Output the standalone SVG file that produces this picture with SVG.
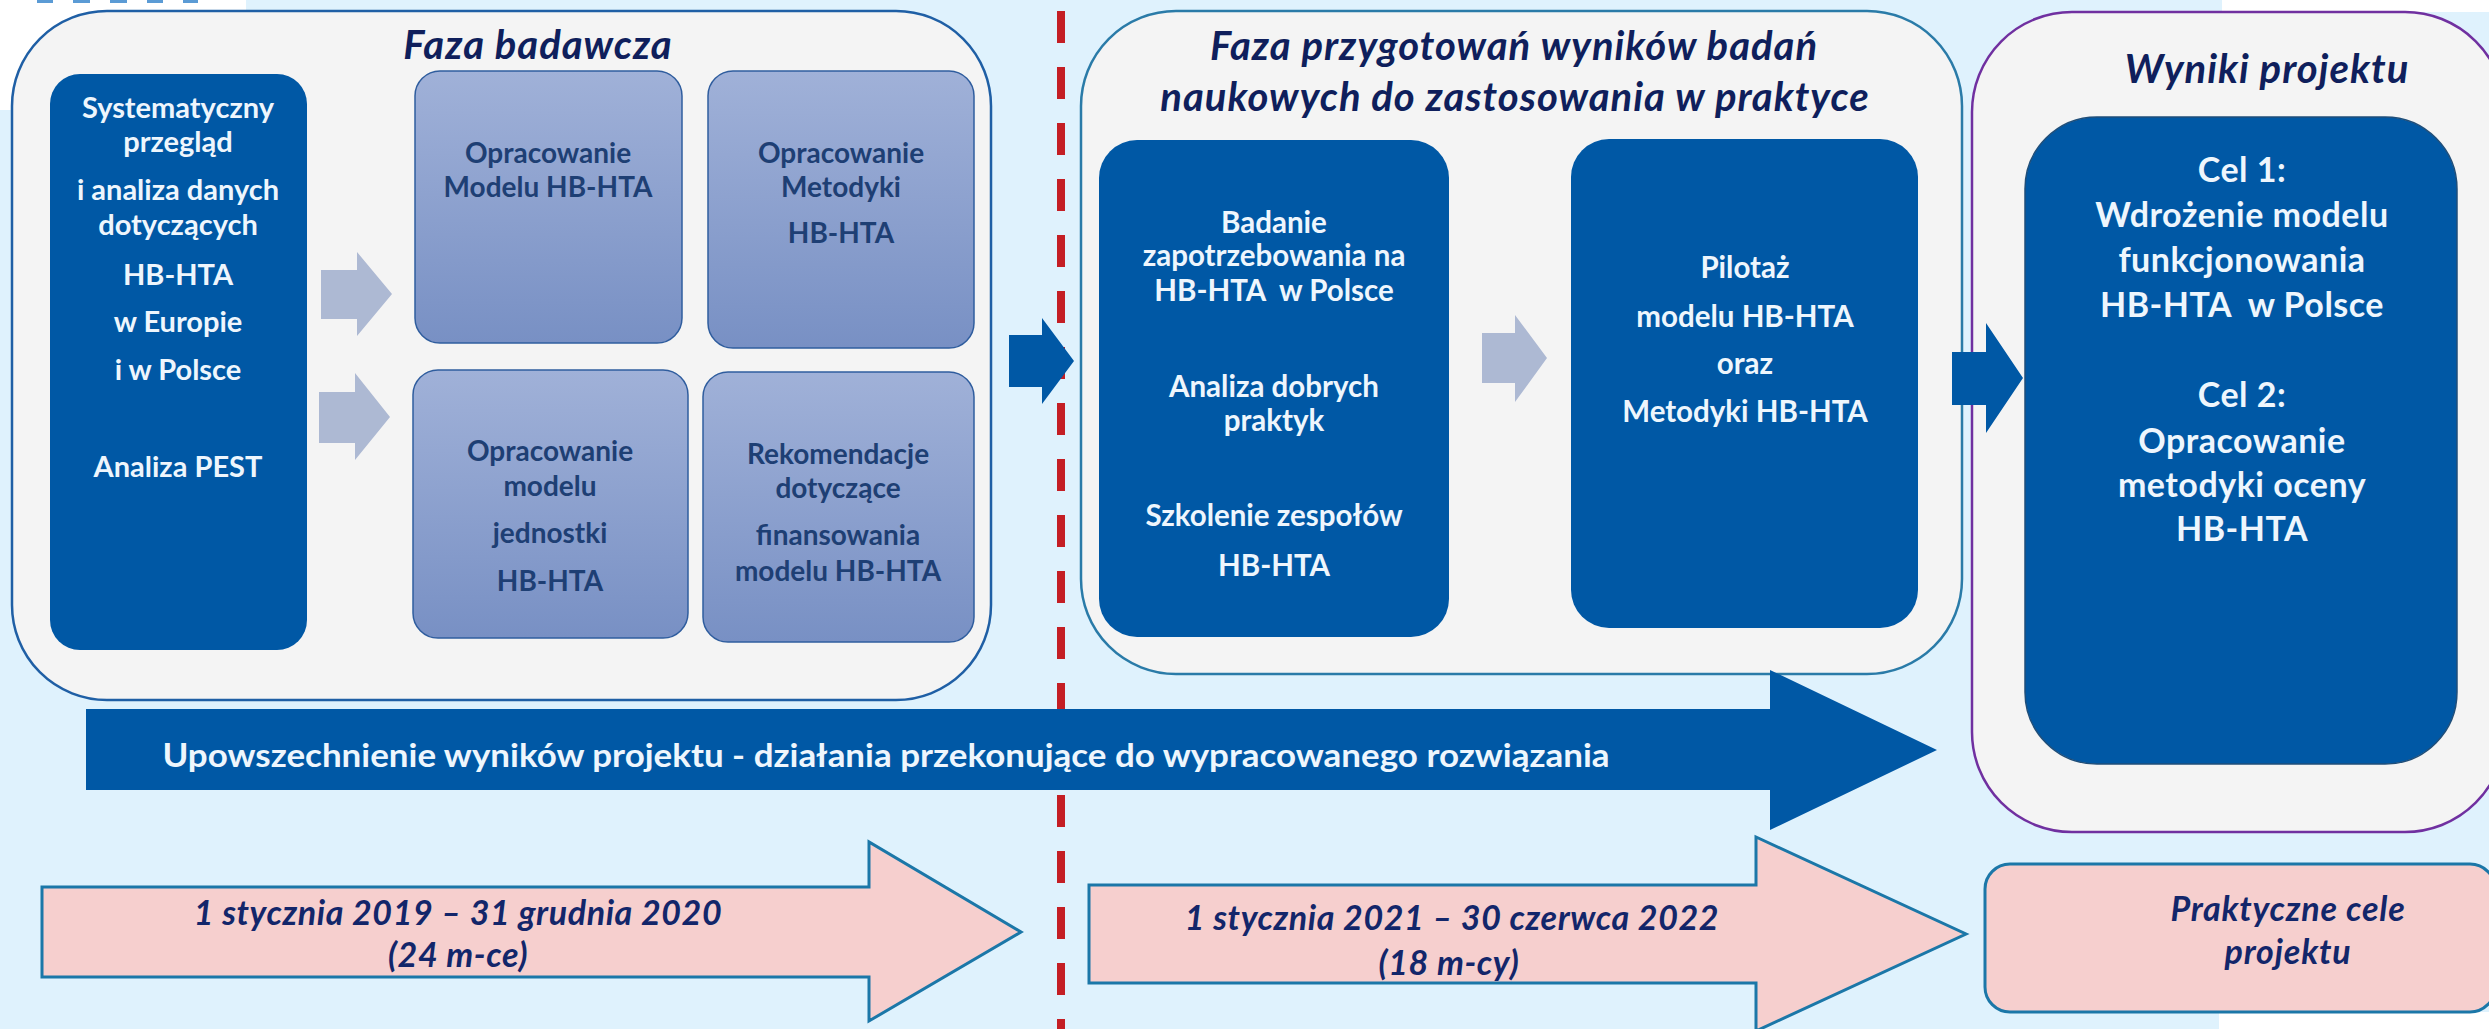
<svg xmlns="http://www.w3.org/2000/svg" width="2489" height="1029" viewBox="0 0 2489 1029">
<defs>
<linearGradient id="lg" x1="0" y1="0" x2="0" y2="1">
<stop offset="0" stop-color="#A0B1D8"/>
<stop offset="1" stop-color="#7890C4"/>
</linearGradient>
<style>
.phase{fill:#F4F4F4;stroke-width:2.5}
.dark{fill:#0058A5}
.light{fill:url(#lg);stroke:#2F5D9E;stroke-width:1.5}
.garrow{fill:#ADB9D3}
.barrow{fill:#0058A5}
.pink{fill:#F6CFCE;stroke:#1B77A8;stroke-width:3}
text{font-family:Lato,"Liberation Sans",sans-serif;font-weight:bold;text-anchor:middle}
.t{font-style:italic;font-size:40px;letter-spacing:1px;fill:#0F1F5C}
.w{fill:#EEF6FD;font-size:29px}
.w2{fill:#EEF6FD;font-size:29.5px}
.g{fill:#1E3F74;font-size:28px}
.c{fill:#EEF6FD;font-size:34px;letter-spacing:0.5px}
.p{fill:#13266A;font-style:italic;font-size:34px;letter-spacing:0.6px}
.pp{fill:#13266A;font-style:italic;font-size:34px;letter-spacing:0.8px}
</style>
</defs>
<rect x="0" y="0" width="2489" height="1029" fill="#DFF2FD"/>
<rect x="0" y="0" width="246" height="110" fill="#FFFFFF"/>
<rect x="2222" y="0" width="267" height="12" fill="#FFFFFF"/>
<rect x="2219" y="1012" width="270" height="17" fill="#FFFFFF"/>
<g fill="#5B9BD5">
<rect x="37" y="0" width="16" height="3"/>
<rect x="73" y="0" width="17" height="3"/>
<rect x="110" y="0" width="17" height="3"/>
<rect x="147" y="0" width="16" height="3"/>
<rect x="183" y="0" width="15" height="3"/>
</g>

<g id="phase-research">
<rect class="phase" x="12" y="11" width="979" height="689" rx="95" stroke="#1F5FA5"/>
<text class="t" x="538" y="59">Faza badawcza</text>
</g>

<g id="node-systematic">
<rect class="dark" x="50" y="74" width="257" height="576" rx="30"/>
<text class="w" x="178" y="118">Systematyczny</text>
<text class="w" x="178" y="152">przegląd</text>
<text class="w" x="178" y="200">i analiza danych</text>
<text class="w" x="178" y="235">dotyczących</text>
<text class="w" x="178" y="285">HB-HTA</text>
<text class="w" x="178" y="332">w Europie</text>
<text class="w" x="178" y="380">i w Polsce</text>
<text class="w" x="178" y="477">Analiza PEST</text>
</g>

<g id="node-model">
<rect class="light" x="415" y="71" width="267" height="272" rx="25"/>
<text class="g" x="548" y="163">Opracowanie</text>
<text class="g" x="548" y="197">Modelu HB-HTA</text>
</g>
<g id="node-metodyka">
<rect class="light" x="708" y="71" width="266" height="277" rx="25"/>
<text class="g" x="841" y="163">Opracowanie</text>
<text class="g" x="841" y="197">Metodyki</text>
<text class="g" x="841" y="243">HB-HTA</text>
</g>
<g id="node-jednostka">
<rect class="light" x="413" y="370" width="275" height="268" rx="25"/>
<text class="g" x="550" y="461">Opracowanie</text>
<text class="g" x="550" y="496">modelu</text>
<text class="g" x="550" y="543">jednostki</text>
<text class="g" x="550" y="591">HB-HTA</text>
</g>
<g id="node-rekomendacje">
<rect class="light" x="703" y="372" width="271" height="270" rx="25"/>
<text class="g" x="838" y="464">Rekomendacje</text>
<text class="g" x="838" y="498">dotyczące</text>
<text class="g" x="838" y="545">finansowania</text>
<text class="g" x="838" y="581">modelu HB-HTA</text>
</g>

<g id="phase-prep">
<rect class="phase" x="1081" y="11" width="881" height="663" rx="95" stroke="#2A7BA8"/>
<text class="t" x="1514" y="60">Faza przygotowań wyników badań</text>
<text class="t" x="1515" y="111">naukowych do zastosowania w praktyce</text>
</g>
<g id="node-badanie">
<rect class="dark" x="1099" y="140" width="350" height="497" rx="38"/>
<text class="w2" x="1274" y="233">Badanie</text>
<text class="w2" x="1274" y="266">zapotrzebowania na</text>
<text class="w2" x="1274" y="301" xml:space="preserve">HB-HTA  w Polsce</text>
<text class="w2" x="1274" y="397">Analiza dobrych</text>
<text class="w2" x="1274" y="431">praktyk</text>
<text class="w2" x="1274" y="526">Szkolenie zespołów</text>
<text class="w2" x="1274" y="576">HB-HTA</text>
</g>
<g id="node-pilotaz">
<rect class="dark" x="1571" y="139" width="347" height="489" rx="38"/>
<text class="w2" x="1745" y="278">Pilotaż</text>
<text class="w2" x="1745" y="327">modelu HB-HTA</text>
<text class="w2" x="1745" y="374">oraz</text>
<text class="w2" x="1745" y="422">Metodyki HB-HTA</text>
</g>

<g id="phase-results">
<rect class="phase" x="1972" y="12" width="533" height="820" rx="100" stroke="#7030A0"/>
<text class="t" x="2267" y="83">Wyniki projektu</text>
</g>
<g id="node-cele">
<rect class="dark" x="2025" y="117" width="432" height="647" rx="72" stroke="#1F4E79" stroke-width="1.5"/>
<text class="c" x="2242" y="182">Cel 1:</text>
<text class="c" x="2242" y="227">Wdrożenie modelu</text>
<text class="c" x="2242" y="272">funkcjonowania</text>
<text class="c" x="2242" y="317" xml:space="preserve">HB-HTA  w Polsce</text>
<text class="c" x="2242" y="407">Cel 2:</text>
<text class="c" x="2242" y="453">Opracowanie</text>
<text class="c" x="2242" y="497">metodyki oceny</text>
<text class="c" x="2242" y="541">HB-HTA</text>
</g>

<g id="connectors">
<line x1="1061" y1="11" x2="1061" y2="1029" stroke="#C41E24" stroke-width="8" stroke-dasharray="32 24"/>
<polygon class="garrow" points="321,270 357,270 357,252 392,294 357,336 357,319 321,319"/>
<polygon class="garrow" points="319,392 355,392 355,373 390,417 355,460 355,443 319,443"/>
<polygon class="garrow" points="1482,333 1515,333 1515,315 1547,358 1515,402 1515,383 1482,383"/>
<polygon class="barrow" points="1009,335 1042,335 1042,318 1074,361 1042,404 1042,387 1009,387"/>
<polygon class="barrow" points="1952,352 1986,352 1986,323 2023,378 1986,433 1986,405 1952,405"/>
</g>

<g id="band-dissemination">
<polygon class="barrow" points="86,709 1770,709 1770,670 1937,750 1770,830 1770,790 86,790"/>
<text x="886" y="767" fill="#EEF6FD" font-size="32" textLength="1447" lengthAdjust="spacingAndGlyphs">Upowszechnienie wyników projektu - działania przekonujące do wypracowanego rozwiązania</text>
</g>

<g id="timeline-1">
<polygon class="pink" points="42,887 869,887 869,842 1021,932 869,1021 869,977 42,977"/>
<text class="p" x="458" y="925">1 stycznia 2019 – 31 grudnia 2020</text>
<text class="p" x="458" y="967">(24 m-ce)</text>
</g>
<g id="timeline-2">
<polygon class="pink" points="1089,885 1756,885 1756,837 1966,934 1756,1031 1756,983 1089,983"/>
<text class="p" x="1452" y="930">1 stycznia 2021 – 30 czerwca 2022</text>
<text class="p" x="1449" y="975">(18 m-cy)</text>
</g>
<g id="practical-goals">
<rect class="pink" x="1985" y="864" width="510" height="148" rx="25"/>
<text class="pp" x="2288" y="921">Praktyczne cele</text>
<text class="pp" x="2288" y="964">projektu</text>
</g>
</svg>
